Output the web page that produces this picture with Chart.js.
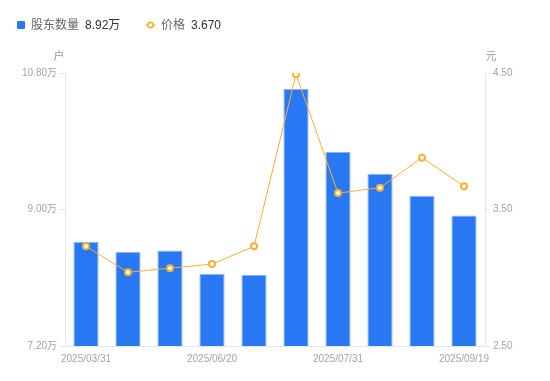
<!DOCTYPE html>
<html><head><meta charset="utf-8">
<script src="https://cdn.jsdelivr.net/npm/chart.js@4/dist/chart.umd.min.js"></script>
<style>
html,body{margin:0;padding:0;background:#fff;}
#wrap{position:relative;width:550px;height:381px;}
canvas{position:absolute;left:0;top:0;}
.lg{position:absolute;top:17px;font:12px "Liberation Sans","Noto Sans CJK SC",sans-serif;line-height:16px;white-space:nowrap;}
.lg .k{color:#666;}
.lg .v{color:#333;margin-left:6px;}
</style></head>
<body>
<div id="wrap">
<canvas id="c" width="550" height="381"></canvas>
<div class="lg" style="left:17px"><span style="display:inline-block;width:8px;height:8px;background:#2878f4;border-radius:1px;margin-right:6px;vertical-align:0px"></span><span class="k" id="k1"></span><span class="v" id="v1"></span></div>
<div class="lg" style="left:145px"><svg width="11" height="8" style="margin-right:5px;vertical-align:0px"><line x1="0" y1="4" x2="11" y2="4" stroke="#f8b133" stroke-width="1"/><circle cx="5.5" cy="4" r="2.6" fill="#fff" stroke="#f8b133" stroke-width="1.6"/></svg><span class="k" id="k2"></span><span class="v" id="v2"></span></div>
</div>
<script>
const categories = ["2025/03/31","2025/04/30","2025/05/20","2025/06/20","2025/06/30","2025/07/10","2025/07/31","2025/08/20","2025/08/31","2025/09/19"];
const shownLabels = ["2025/03/31","2025/06/20","2025/07/31","2025/09/19"];
const holders = [8.57, 8.44, 8.46, 8.15, 8.14, 10.59, 9.76, 9.47, 9.18, 8.92];
const prices = [3.23, 3.04, 3.07, 3.10, 3.23, 4.49, 3.62, 3.66, 3.88, 3.67];
const leftTicks = [7.20, 9.00, 10.80];
const rightTicks = [2.50, 3.50, 4.50];

document.getElementById('k1').textContent = '股东数量';
document.getElementById('v1').textContent = holders[holders.length-1].toFixed(2) + '万';
document.getElementById('k2').textContent = '价格';
document.getElementById('v2').textContent = prices[prices.length-1].toFixed(3);

const FONT = '"Liberation Sans","Noto Sans CJK SC",sans-serif';
const tickColor = '#a3a3b3';
const gridColor = '#e6e6e6';

const axisTitles = {
  id: 'axisTitles',
  afterDraw(chart) {
    const ctx = chart.ctx;
    ctx.save();
    ctx.font = '11px ' + FONT;
    ctx.fillStyle = '#9a9aa8';
    ctx.textAlign = 'center';
    ctx.textBaseline = 'middle';
    const ca = chart.chartArea;
    ctx.fillText('户', chart.scales.y.right - 6, ca.top - 16);
    ctx.fillText('元', chart.scales.y1.left + 6, ca.top - 16);
    ctx.restore();
  }
};

new Chart(document.getElementById('c'), {
  data: {
    labels: categories,
    datasets: [
      { type: 'line', label: '价格', data: prices, yAxisID: 'y1', borderColor: '#f8b133', borderWidth: 1,
        pointRadius: 3, pointBorderWidth: 2, pointBackgroundColor: '#fff', pointBorderColor: '#f8b133', tension: 0, order: 0 },
      { type: 'bar', label: '股东数量', data: holders, yAxisID: 'y', backgroundColor: '#2878f4',
        borderColor: '#8db6f8', borderWidth: {top:1,left:1,right:1,bottom:0}, barPercentage: 0.6, categoryPercentage: 1, order: 1 }
    ]
  },
  options: {
    responsive: false, animation: false, devicePixelRatio: 1,
    layout: { padding: { top: 73, left: 0, right: 0, bottom: 0 } },
    plugins: { legend: { display: false }, tooltip: { enabled: false } },
    scales: {
      x: {
        grid: { display: true, drawOnChartArea: false, drawTicks: false, color: gridColor },
        border: { color: gridColor },
        ticks: { autoSkip: false, maxRotation: 0, padding: 7, color: tickColor, font: { size: 10, family: FONT },
          callback: function(v, i) { const l = categories[i]; return shownLabels.includes(l) ? l : ''; } },
        afterFit: s => { s.height = 35; }
      },
      y: {
        position: 'left', min: leftTicks[0], max: leftTicks[leftTicks.length-1],
        afterBuildTicks: s => { s.ticks = leftTicks.map(v => ({ value: v })); },
        grid: { drawOnChartArea: false, tickLength: 5, color: gridColor },
        border: { color: gridColor },
        ticks: { padding: 3, color: tickColor, font: { size: 10, family: FONT }, callback: v => v.toFixed(2) + '万' },
        afterFit: s => { s.width = 65; }
      },
      y1: {
        position: 'right', min: rightTicks[0], max: rightTicks[rightTicks.length-1],
        afterBuildTicks: s => { s.ticks = rightTicks.map(v => ({ value: v })); },
        grid: { drawOnChartArea: false, tickLength: 5, color: gridColor },
        border: { color: gridColor },
        ticks: { padding: 3, color: tickColor, font: { size: 10, family: FONT }, callback: v => v.toFixed(2) },
        afterFit: s => { s.width = 65; }
      }
    }
  },
  plugins: [axisTitles]
});
</script>
</body></html>
